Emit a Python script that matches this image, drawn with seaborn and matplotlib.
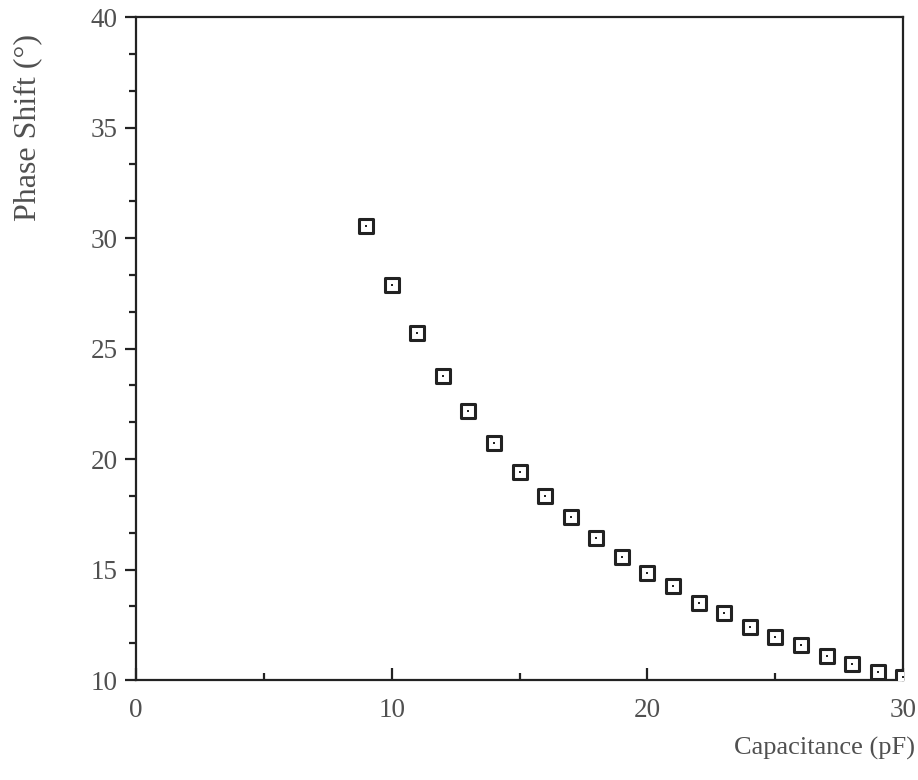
import seaborn as sns
from matplotlib import pyplot as plt
from matplotlib.ticker import MultipleLocator
import pandas as pd

# емкость (пФ) и фазовый сдвиг (градусы)
capacitance = [9, 10, 11, 12, 13, 14, 15, 16, 17, 18, 19, 20,
               21, 22, 23, 24, 25, 26, 27, 28, 29, 30]
phase_shift = [30.55, 27.87, 25.7, 23.76, 22.17, 20.72, 19.41, 18.33, 17.38,
               16.43, 15.57, 14.84, 14.25, 13.48, 13.03, 12.40, 11.95, 11.58,
               11.09, 10.72, 10.36, 10.14]

df = pd.DataFrame({"C": capacitance, "phi": phase_shift})

sns.set_style("ticks")
plt.rcParams['font.family'] = ['Liberation Serif', 'DejaVu Serif']
text_col = "#505050"
line_col = "#222222"

fig = plt.figure(figsize=(9.18, 7.80), dpi=100)
ax = fig.add_axes([0.148, 0.128, 0.836, 0.850])

sns.scatterplot(data=df, x="C", y="phi", ax=ax, marker="s", s=90,
                facecolor="white", edgecolor=line_col, linewidth=2.2, zorder=3)
sns.scatterplot(data=df, x="C", y="phi", ax=ax, marker="s", s=4,
                color=line_col, linewidth=0, zorder=4)

ax.set_xlim(0, 30)
ax.set_ylim(10, 40)
ax.xaxis.set_major_locator(MultipleLocator(10))
ax.xaxis.set_minor_locator(MultipleLocator(5))
ax.yaxis.set_major_locator(MultipleLocator(5))
ax.yaxis.set_minor_locator(MultipleLocator(5 / 3))

for s in ax.spines.values():
    s.set_color(line_col)
    s.set_linewidth(1.6)

ax.tick_params(axis="x", which="major", direction="in", length=9, width=1.6,
               color=line_col, labelsize=19.5, labelcolor=text_col, pad=13)
ax.tick_params(axis="x", which="minor", direction="in", length=5, width=1.6,
               color=line_col)
ax.tick_params(axis="y", which="major", direction="out", length=8, width=1.6,
               color=line_col, labelsize=19.5, labelcolor=text_col, pad=5)
ax.tick_params(axis="y", which="minor", direction="out", length=5, width=1.6,
               color=line_col)

ax.set_xlabel("")
ax.set_ylabel("")
fig.text(0.997, 0.040, "Capacitance (pF)", ha="right", va="center",
         fontsize=19, color=text_col)
fig.text(0.030, 0.837, "Phase Shift (°)", ha="center", va="center",
         rotation=90, fontsize=23, color=text_col)

fig.savefig("out.png", dpi=100)
